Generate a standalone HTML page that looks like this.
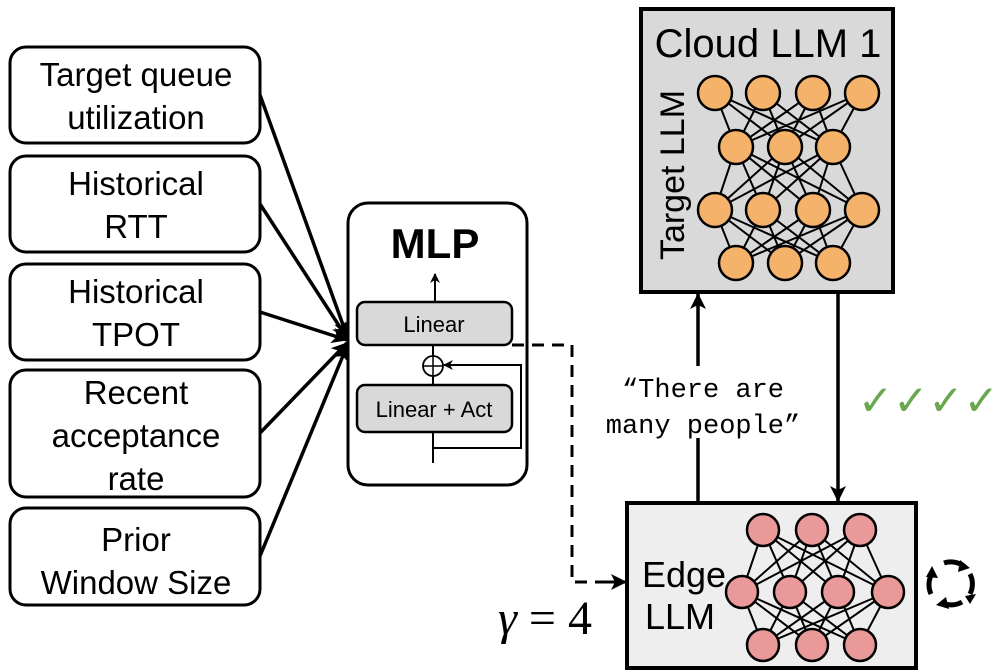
<!DOCTYPE html>
<html><head><meta charset="utf-8"><style>
html,body{margin:0;padding:0;background:#fff;}
svg{display:block;}
</style></head><body>
<svg width="996" height="672" viewBox="0 0 996 672" xmlns="http://www.w3.org/2000/svg" font-family="Liberation Sans, sans-serif">
<defs>
<marker id="ah" markerWidth="10" markerHeight="10" refX="9" refY="5" orient="auto" markerUnits="userSpaceOnUse">
<path d="M0,0 L10,5 L0,10 L3,5 z" fill="#000"/></marker>
<marker id="ahb" markerWidth="16" markerHeight="16" refX="15" refY="8" orient="auto" markerUnits="userSpaceOnUse">
<path d="M0,0 L16,8 L0,16 L4,8 z" fill="#000"/></marker>
</defs>
<g fill="#fff" stroke="#000" stroke-width="3">
<rect x="10" y="47" width="250" height="96" rx="16"/>
<rect x="10" y="156" width="250" height="96" rx="16"/>
<rect x="10" y="264" width="250" height="96" rx="16"/>
<rect x="10" y="370" width="250" height="127" rx="16"/>
<rect x="10" y="508" width="250" height="97" rx="16"/>
</g>
<g font-size="33" text-anchor="middle" fill="#000">
<text x="136" y="86">Target queue</text><text x="136" y="129">utilization</text>
<text x="136" y="195">Historical</text><text x="136" y="238">RTT</text>
<text x="136" y="303">Historical</text><text x="136" y="346">TPOT</text>
<text x="136" y="404">Recent</text><text x="136" y="447">acceptance</text><text x="136" y="490">rate</text>
<text x="136" y="551">Prior</text><text x="136" y="594">Window Size</text>
</g>
<g stroke="#000" stroke-width="3.5" marker-end="url(#ahb)">
<line x1="260" y1="95" x2="347" y2="336"/>
<line x1="260" y1="204" x2="347" y2="338"/>
<line x1="260" y1="312" x2="347" y2="340"/>
<line x1="260" y1="433" x2="347" y2="343"/>
<line x1="260" y1="556" x2="347" y2="346"/>
</g>
<rect x="348" y="203" width="179" height="282" rx="20" fill="#fff" stroke="#000" stroke-width="3"/>
<text x="435" y="258" font-size="42" font-weight="bold" text-anchor="middle">MLP</text>
<line x1="435" y1="302" x2="435" y2="274" stroke="#000" stroke-width="2" marker-end="url(#ah)"/>
<rect x="357" y="302" width="155" height="43" rx="8" fill="#d9d9d9" stroke="#000" stroke-width="2.5"/>
<text x="434" y="332" font-size="22" text-anchor="middle">Linear</text>
<line x1="433" y1="345" x2="433" y2="385" stroke="#000" stroke-width="2"/>
<circle cx="433" cy="366" r="10" fill="#fff" stroke="#000" stroke-width="1.8"/>
<line x1="423" y1="366" x2="443" y2="366" stroke="#000" stroke-width="1.5"/>
<line x1="433" y1="356" x2="433" y2="376" stroke="#000" stroke-width="1.5"/>
<rect x="357" y="385" width="155" height="47" rx="8" fill="#d9d9d9" stroke="#000" stroke-width="2.5"/>
<text x="434" y="417" font-size="22" text-anchor="middle">Linear + Act</text>
<line x1="433" y1="432" x2="433" y2="463" stroke="#000" stroke-width="2"/>
<polyline points="433,448 521,448 521,365 444,365" fill="none" stroke="#000" stroke-width="2" marker-end="url(#ah)"/>
<polyline points="512,345 572,345 572,582 600,582" fill="none" stroke="#000" stroke-width="3" stroke-dasharray="12,8"/>
<line x1="600" y1="582" x2="626" y2="582" stroke="#000" stroke-width="3" marker-end="url(#ahb)"/>
<text x="498" y="634" font-family="Liberation Serif, serif" font-size="48"><tspan font-style="italic">γ</tspan> = 4</text>
<!-- Cloud -->
<rect x="641" y="9" width="252" height="283" fill="#d9d9d9" stroke="#000" stroke-width="4"/>
<text x="768" y="57" font-size="40" text-anchor="middle">Cloud LLM 1</text>
<text transform="translate(684,175) rotate(-90)" font-size="34" text-anchor="middle">Target LLM</text>
<path stroke="#000" stroke-width="2" fill="none" d="
M715 93L736 147M715 93L785 147M715 93L833 147
M763 93L736 147M763 93L785 147M763 93L833 147
M813 93L736 147M813 93L785 147M813 93L833 147
M862 93L736 147M862 93L785 147M862 93L833 147
M736 147L715 210M736 147L763 210M736 147L813 210M736 147L862 210
M785 147L715 210M785 147L763 210M785 147L813 210M785 147L862 210
M833 147L715 210M833 147L763 210M833 147L813 210M833 147L862 210
M715 210L736 263M715 210L785 263M715 210L833 263
M763 210L736 263M763 210L785 263M763 210L833 263
M813 210L736 263M813 210L785 263M813 210L833 263
M862 210L736 263M862 210L785 263M862 210L833 263"/>
<g fill="#f5b26b" stroke="#000" stroke-width="2.5">
<circle cx="715" cy="93" r="17"/><circle cx="763" cy="93" r="17"/><circle cx="813" cy="93" r="17"/><circle cx="862" cy="93" r="17"/>
<circle cx="736" cy="147" r="17"/><circle cx="785" cy="147" r="17"/><circle cx="833" cy="147" r="17"/>
<circle cx="715" cy="210" r="17"/><circle cx="763" cy="210" r="17"/><circle cx="813" cy="210" r="17"/><circle cx="862" cy="210" r="17"/>
<circle cx="736" cy="263" r="17"/><circle cx="785" cy="263" r="17"/><circle cx="833" cy="263" r="17"/>
</g>
<!-- Edge -->
<rect x="627" y="503" width="289" height="165" fill="#eeeeee" stroke="#000" stroke-width="4"/>
<text x="684" y="587" font-size="36" text-anchor="middle">Edge</text>
<text x="680" y="629" font-size="36" text-anchor="middle">LLM</text>
<path stroke="#000" stroke-width="2" fill="none" d="
M763 530L742 592M763 530L790 592M763 530L838 592M763 530L888 592
M812 530L742 592M812 530L790 592M812 530L838 592M812 530L888 592
M860 530L742 592M860 530L790 592M860 530L838 592M860 530L888 592
M742 592L763 645M742 592L812 645M742 592L860 645
M790 592L763 645M790 592L812 645M790 592L860 645
M838 592L763 645M838 592L812 645M838 592L860 645
M888 592L763 645M888 592L812 645M888 592L860 645"/>
<g fill="#ea9999" stroke="#000" stroke-width="2.5">
<circle cx="763" cy="530" r="16"/><circle cx="812" cy="530" r="16"/><circle cx="860" cy="530" r="16"/>
<circle cx="742" cy="592" r="16"/><circle cx="790" cy="592" r="16"/><circle cx="838" cy="592" r="16"/><circle cx="888" cy="592" r="16"/>
<circle cx="763" cy="645" r="16"/><circle cx="812" cy="645" r="16"/><circle cx="860" cy="645" r="16"/>
</g>
<line x1="698" y1="503" x2="698" y2="294" stroke="#000" stroke-width="3.5" marker-end="url(#ahb)"/>
<line x1="838" y1="292" x2="838" y2="501" stroke="#000" stroke-width="3.5" marker-end="url(#ahb)"/>
<rect x="592" y="366" width="224" height="72" fill="#fff"/>
<g font-family="Liberation Mono, monospace" font-size="27" text-anchor="middle">
<text x="703" y="397">“There are</text><text x="703" y="433">many people”</text>
</g>
<text x="858" y="415" font-size="42" fill="#6aa84f" font-family="DejaVu Sans, sans-serif" font-weight="bold" font-style="italic">✓✓✓✓</text>
<g fill="none" stroke="#000" stroke-width="5">
<path d="M944,563 A22,22 0 0 1 965,567"/>
<path d="M970,574 A22,22 0 0 1 970,594"/>
<path d="M962,602 A22,22 0 0 1 942,603"/>
<path d="M931,594 A22,22 0 0 1 933,572"/>
</g>
<g fill="#000">
<path d="M960,560 L970,568 L958,572z"/>
<path d="M965,596 L976,594 L970,604z"/>
<path d="M946,597 L936,605 L949,609z"/>
<path d="M926,577 L932,566 L938,578z"/>
</g>
</svg>
</body></html>
